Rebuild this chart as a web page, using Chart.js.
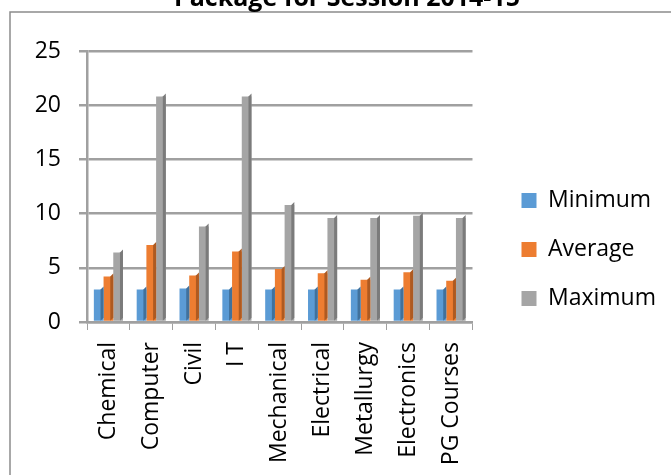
<!DOCTYPE html>
<html>
<head>
<meta charset="utf-8">
<title>Package for Session 2014-15</title>
<script src="https://cdn.jsdelivr.net/npm/chart.js@4.4.1/dist/chart.umd.min.js"></script>
<style>
  html, body { margin: 0; padding: 0; background: #fff; }
  #wrap { position: relative; width: 671px; height: 475px; }
</style>
</head>
<body>
<div id="wrap"><canvas id="packageChart" width="671" height="475"></canvas></div>
<script>
// data (salary package, lakh per annum)
const branches = ['Chemical', 'Computer', 'Civil', 'I T', 'Mechanical', 'Electrical', 'Metallurgy', 'Electronics', 'PG Courses'];
const minimum = [3.0, 3.0, 3.1, 3.0, 3.0, 3.0, 3.0, 3.0, 3.0];
const average = [4.2, 7.1, 4.3, 6.5, 4.9, 4.5, 3.9, 4.6, 3.8];
const maximum = [6.4, 20.8, 8.8, 20.8, 10.8, 9.6, 9.6, 9.8, 9.6];
const yTicks = [0, 5, 10, 15, 20, 25];
const chartTitle = 'Package for Session 2014-15';

const FONT = "'Open Sans', 'DejaVu Sans', sans-serif";
const colors = {
    min: '#5b9bd5', minSide: '#41719c',
    avg: '#ed7d31', avgSide: '#ae5a21',
    max: '#a5a5a5', maxSide: '#7b7b7b'
};

// white page, the cut off title and the frame's top/left edge
const framePlugin = {
    id: 'frame',
    afterLayout(chart) {
        // legend sits a little above the middle of the frame
        chart.legend.top -= 9;
        chart.legend.bottom -= 9;
    },
    beforeDraw(chart) {
        const ctx = chart.ctx;
        ctx.save();
        ctx.fillStyle = '#fff';
        ctx.fillRect(0, 0, chart.width, chart.height);
        ctx.strokeStyle = '#8c8c8c';
        ctx.lineWidth = 1.5;
        ctx.beginPath();
        ctx.moveTo(chart.width, 12);
        ctx.lineTo(10, 12);
        ctx.lineTo(10, chart.height);
        ctx.stroke();
        ctx.fillStyle = '#000';
        ctx.font = 'bold 25px ' + FONT;
        ctx.textAlign = 'center';
        ctx.textBaseline = 'alphabetic';
        ctx.fillText(chartTitle, 347, 6);
        ctx.restore();
    }
};

// darker right face on each bar for the 3-D look
const sideFacePlugin = {
    id: 'sideFace',
    afterDatasetsDraw(chart) {
        const ctx = chart.ctx;
        ctx.save();
        chart.data.datasets.forEach((ds, i) => {
            const meta = chart.getDatasetMeta(i);
            if (meta.hidden) return;
            meta.data.forEach(bar => {
                const p = bar.getProps(['x', 'y', 'base', 'width'], true);
                const right = p.x + p.width / 2;
                const d = 3;
                ctx.fillStyle = ds.sideColor;
                ctx.beginPath();
                ctx.moveTo(right - d, p.y);
                ctx.lineTo(right, p.y - d);
                ctx.lineTo(right, p.base - d);
                ctx.lineTo(right - d, p.base);
                ctx.closePath();
                ctx.fill();
            });
        });
        ctx.restore();
    }
};

new Chart(document.getElementById('packageChart'), {
    type: 'bar',
    data: {
        labels: branches,
        datasets: [
            { label: 'Minimum', data: minimum, backgroundColor: colors.min, sideColor: colors.minSide },
            { label: 'Average', data: average, backgroundColor: colors.avg, sideColor: colors.avgSide },
            { label: 'Maximum', data: maximum, backgroundColor: colors.max, sideColor: colors.maxSide }
        ]
    },
    options: {
        responsive: false,
        animation: false,
        layout: { padding: { top: 51, right: 5, bottom: 9, left: 22 } },
        datasets: {
            bar: { barPercentage: 1.0, categoryPercentage: 0.68 }
        },
        scales: {
            x: {
                grid: { display: true, drawOnChartArea: false, drawTicks: true, tickLength: 8, color: '#a0a0a0', lineWidth: 1 },
                border: { display: true, color: '#a0a0a0', width: 2.5 },
                ticks: {
                    minRotation: 90, maxRotation: 90, autoSkip: false, padding: 12,
                    color: '#000', font: { family: FONT, size: 23 }
                },
                afterFit(scale) { scale.height = 144; }
            },
            y: {
                min: yTicks[0],
                max: yTicks[yTicks.length - 1],
                afterBuildTicks(scale) {
                    scale.ticks = yTicks.map(v => ({ value: v }));
                },
                afterFit(scale) { scale.width = 65; },
                grid: { color: '#a0a0a0', lineWidth: 2.5, tickLength: 8 },
                border: { display: true, color: '#a0a0a0', width: 2.5 },
                ticks: { padding: 18, color: '#000', font: { family: FONT, size: 23 } }
            },
            gap: {
                type: 'linear',
                position: 'right',
                display: true,
                grid: { display: false },
                border: { display: false },
                ticks: { display: false },
                afterFit(scale) { scale.width = 23; }
            }
        },
        plugins: {
            title: { display: false },
            tooltip: { enabled: false },
            legend: {
                position: 'right',
                maxWidth: 260,
                labels: {
                    boxWidth: 15, boxHeight: 15, padding: 26,
                    color: '#000', font: { family: FONT, size: 23 }
                }
            }
        }
    },
    plugins: [framePlugin, sideFacePlugin]
});
</script>
</body>
</html>
